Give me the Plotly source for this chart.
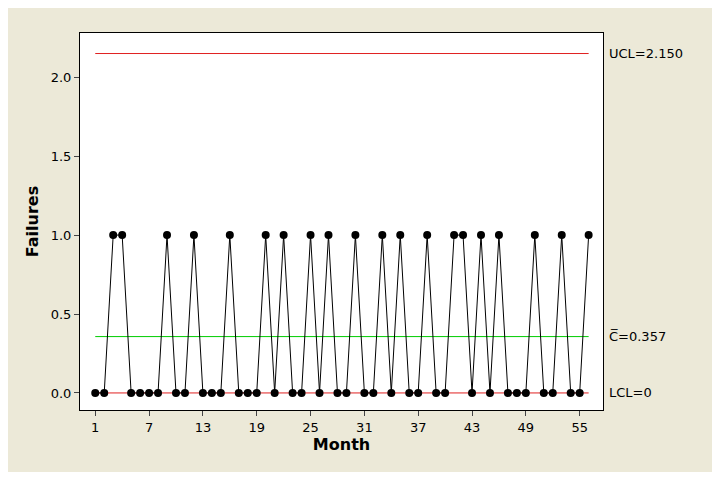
import plotly.graph_objects as go

months = list(range(1, 57))
ones = [3,4,9,12,16,20,22,25,27,30,33,35,38,41,42,44,46,50,53,56]
failures = [1 if m in ones else 0 for m in months]
ucl, cbar, lcl = 2.150, 0.357, 0.0

fig = go.Figure()
fig.add_trace(go.Scatter(x=[1, 56], y=[ucl, ucl], mode="lines", line=dict(color="#E02020", width=1), hoverinfo="skip"))
fig.add_trace(go.Scatter(x=[1, 56], y=[cbar, cbar], mode="lines", line=dict(color="#00CC00", width=1), hoverinfo="skip"))
fig.add_trace(go.Scatter(x=[1, 56], y=[lcl, lcl], mode="lines", line=dict(color="#E02020", width=1), hoverinfo="skip"))
fig.add_trace(go.Scatter(x=months, y=failures, mode="lines+markers",
                         line=dict(color="black", width=1), marker=dict(color="black", size=8)))
for y, t in [(ucl, "UCL=2.150"), (cbar, "C̅=0.357"), (lcl, "LCL=0")]:
    fig.add_annotation(x=1, xref="paper", xshift=4, y=y, text=t, showarrow=False, xanchor="left",
                       font=dict(family="Verdana, DejaVu Sans", size=13, color="black"))

fig.update_layout(
    width=704, height=464, showlegend=False,
    margin=dict(l=72, r=109, t=25, b=62),
    paper_bgcolor="#ECE9D8", plot_bgcolor="white",
    font=dict(family="Verdana, DejaVu Sans", size=13, color="black"),
    xaxis=dict(range=[-0.7, 57.6], tickvals=list(range(1, 56, 6)), ticks="outside", showgrid=False, zeroline=False,
               showline=True, linecolor="black", mirror=True,
               title=dict(text="<b>Month</b>", standoff=2)),
    yaxis=dict(range=[-0.108, 2.28], tickvals=[0, 0.5, 1, 1.5, 2], tickformat=".1f", ticks="outside",
               showgrid=False, zeroline=False, showline=True, linecolor="black", mirror=True,
               title=dict(text="<b>Failures</b>", standoff=8)),
)
fig.write_html("out.html")
